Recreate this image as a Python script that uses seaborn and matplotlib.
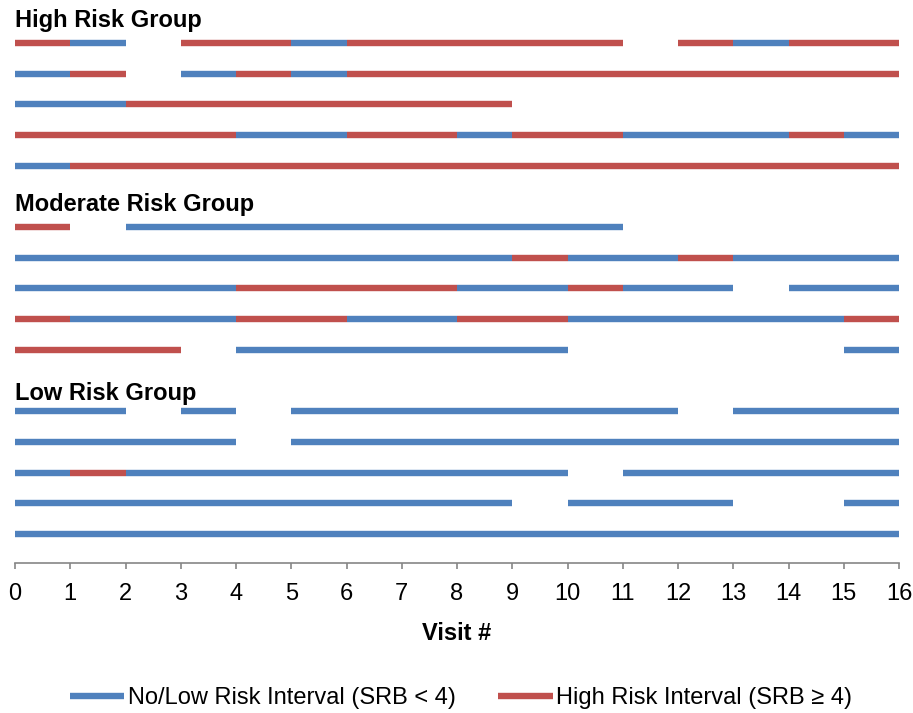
import pandas as pd
import seaborn as sns
import matplotlib
matplotlib.use("Agg")
import matplotlib.pyplot as plt

# segments per subject: (start visit, end visit, risk)  L = no/low risk, H = high risk
high_group = [
    [(0, 1, 'H'), (1, 2, 'L'), (3, 5, 'H'), (5, 6, 'L'), (6, 11, 'H'), (12, 13, 'H'), (13, 14, 'L'), (14, 16, 'H')],
    [(0, 1, 'L'), (1, 2, 'H'), (3, 4, 'L'), (4, 5, 'H'), (5, 6, 'L'), (6, 16, 'H')],
    [(0, 2, 'L'), (2, 9, 'H')],
    [(0, 4, 'H'), (4, 6, 'L'), (6, 8, 'H'), (8, 9, 'L'), (9, 11, 'H'), (11, 14, 'L'), (14, 15, 'H'), (15, 16, 'L')],
    [(0, 1, 'L'), (1, 16, 'H')],
]
moderate_group = [
    [(0, 1, 'H'), (2, 11, 'L')],
    [(0, 9, 'L'), (9, 10, 'H'), (10, 12, 'L'), (12, 13, 'H'), (13, 16, 'L')],
    [(0, 4, 'L'), (4, 8, 'H'), (8, 10, 'L'), (10, 11, 'H'), (11, 13, 'L'), (14, 16, 'L')],
    [(0, 1, 'H'), (1, 4, 'L'), (4, 6, 'H'), (6, 8, 'L'), (8, 10, 'H'), (10, 15, 'L'), (15, 16, 'H')],
    [(0, 3, 'H'), (4, 10, 'L'), (15, 16, 'L')],
]
low_group = [
    [(0, 2, 'L'), (3, 4, 'L'), (5, 12, 'L'), (13, 16, 'L')],
    [(0, 4, 'L'), (5, 16, 'L')],
    [(0, 1, 'L'), (1, 2, 'H'), (2, 10, 'L'), (11, 16, 'L')],
    [(0, 9, 'L'), (10, 13, 'L'), (15, 16, 'L')],
    [(0, 16, 'L')],
]
group_titles = ['High Risk Group', 'Moderate Risk Group', 'Low Risk Group']
risk_names = {'L': 'No/Low Risk Interval (SRB < 4)', 'H': 'High Risk Interval (SRB \u2265 4)'}
visit_ticks = list(range(0, 17))

BLUE = '#4F81BD'
RED = '#C0504D'
GRAY = '#868686'

sns.set_theme(style='white')
plt.rcParams['font.family'] = ['Liberation Sans', 'DejaVu Sans']
plt.rcParams['text.color'] = 'black'
plt.rcParams['axes.labelcolor'] = 'black'

# build long table: two points per segment, rows stacked with a blank slot per group title
recs = []
seg_id = 0
slot = 0
title_y = []
for g, group in enumerate([high_group, moderate_group, low_group]):
    if g > 0:
        slot += 1
    title_y.append(-slot)
    for row in group:
        for a, b, r in row:
            recs.append({'visit': a, 'y': -slot, 'seg': seg_id, 'risk': risk_names[r]})
            recs.append({'visit': b, 'y': -slot, 'seg': seg_id, 'risk': risk_names[r]})
            seg_id += 1
        slot += 1
df = pd.DataFrame(recs)

fig = plt.figure(figsize=(9.13, 7.13), dpi=100)
ax = fig.add_axes([15 / 913, 150 / 713, 884 / 913, 563 / 713])

sns.lineplot(data=df, x='visit', y='y', hue='risk', units='seg', estimator=None, sort=False,
             hue_order=[risk_names['L'], risk_names['H']], palette=[BLUE, RED],
             linewidth=4.6, solid_capstyle='butt', ax=ax)

ax.set_xlim(0, 16)
ax.set_ylim(-16.945, 1.40)
ax.set_xticks(visit_ticks)
ax.set_yticks([])
ax.set_ylabel('')
ax.set_xlabel('Visit #', fontsize=17, fontweight='bold', labelpad=12)
for s in ['left', 'right', 'top']:
    ax.spines[s].set_visible(False)
ax.spines['bottom'].set_color(GRAY)
ax.spines['bottom'].set_linewidth(1.2)
ax.tick_params(axis='x', direction='out', length=4.5, width=1.2, color=GRAY,
               labelsize=17, labelcolor='black', pad=10, bottom=True)

offsets = [0.72, 0.75, 0.58]
for t, y0, off in zip(group_titles, title_y, offsets):
    ax.text(0, y0 + off, t, fontsize=17, fontweight='bold', ha='left', va='center')

handles, labels = ax.get_legend_handles_labels()
ax.get_legend().remove()
fig.legend(handles, labels, loc='center', bbox_to_anchor=(0.505, 0.021), ncol=2, frameon=False,
           fontsize=17, handlelength=2.3, handletextpad=0.15, columnspacing=1.8)

fig.savefig('out.png', dpi=100)
